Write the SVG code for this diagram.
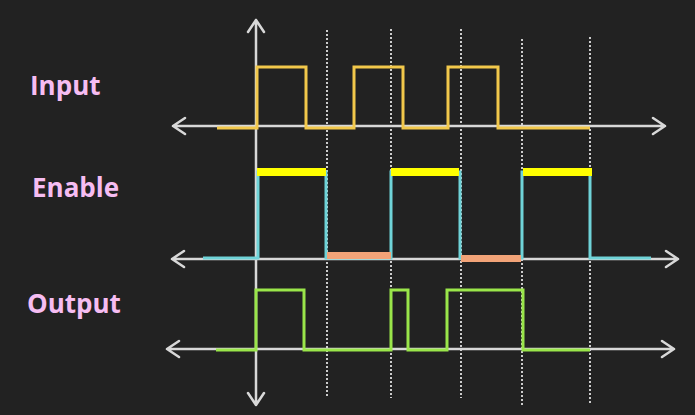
<svg xmlns="http://www.w3.org/2000/svg" width="695" height="415" viewBox="0 0 695 415">
<style>
.axis{stroke:#d8d8d8;stroke-width:2.5;fill:none;stroke-linecap:round;stroke-linejoin:round}
.guide{stroke:#cccccc;stroke-width:2;stroke-dasharray:2 2;fill:none}
.sig{fill:none;stroke-width:3;stroke-linejoin:miter}
.lbl{font-family:"Open Sans","Noto Sans",sans-serif;font-weight:bold;font-size:26px;fill:#f6bdf2}
</style>
<rect width="695" height="415" fill="#222222"/>
<g id="guides">
<line class="guide" x1="327" y1="30" x2="327" y2="397"/>
<line class="guide" x1="391" y1="29" x2="391" y2="398"/>
<line class="guide" x1="461" y1="29" x2="461" y2="398"/>
<line class="guide" x1="522" y1="39" x2="522" y2="407"/>
<line class="guide" x1="590" y1="37" x2="590" y2="405"/>
</g>
<g id="axes">
<path class="axis" d="M256 20 V405 M248 32 L256 20 L264 32 M248 393 L256 405 L264 393"/>
<path class="axis" d="M173 126 H665 M185 118 L173 126 L185 134 M653 118 L665 126 L653 134"/>
<path class="axis" d="M172 259 H678 M184 251 L172 259 L184 267 M666 251 L678 259 L666 267"/>
<path class="axis" d="M167 349 H674 M179 341 L167 349 L179 357 M662 341 L674 349 L662 357"/>
</g>
<g id="input-signal">
<path class="sig" stroke="#f2c84b" d="M217 128 H257 V67 H306 V128 H354 V67 H403 V128 H448 V67 H498 V128 H590"/>
</g>
<g id="enable-signal">
<path class="sig" stroke="#6fd3d8" d="M203 258 H258 V172 H326 V258 H391 V172 H460 V258 H522 V172 H590 V258 H651"/>
<rect x="257" y="168" width="69" height="8" fill="#ffff00"/>
<rect x="391" y="168" width="68" height="8" fill="#ffff00"/>
<rect x="523" y="168" width="69" height="8" fill="#ffff00"/>
<rect x="327" y="252" width="64" height="7" fill="#f2a378"/>
<rect x="461" y="255" width="60" height="7" fill="#f2a378"/>
</g>
<g id="output-signal">
<path class="sig" stroke="#9ae64a" d="M216 350 H256 V290 H304 V350 H391 V290 H408 V350 H447 V290 H523 V350 H590"/>
</g>
<g id="labels">
<text class="lbl" x="30" y="95">Input</text>
<text class="lbl" x="32" y="197">Enable</text>
<text class="lbl" x="27" y="313">Output</text>
</g>
</svg>
